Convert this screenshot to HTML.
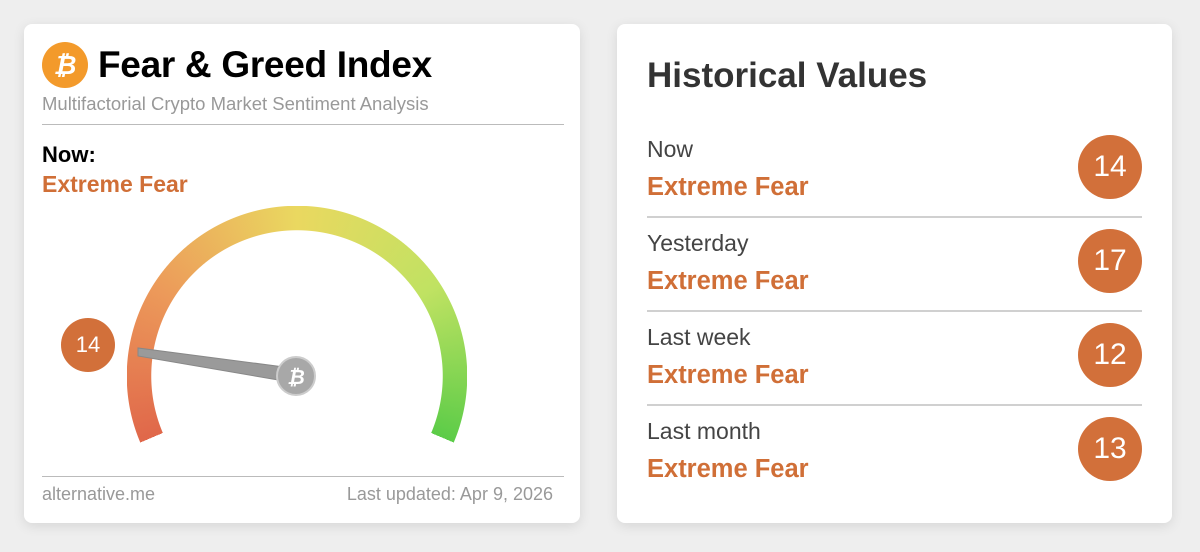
<!DOCTYPE html>
<html><head><meta charset="utf-8"><style>
body{margin:0;width:1200px;height:552px;background:#eeeeee;font-family:"Liberation Sans",sans-serif;position:relative;overflow:hidden}
.card{position:absolute;background:#fff;border-radius:8px;box-shadow:0 3px 12px rgba(0,0,0,0.10)}
.t{position:absolute;white-space:nowrap}
.ef{color:#d06f37;font-weight:bold}
.circ{position:absolute;border-radius:50%;background:#d2703a;color:#fff;text-align:center}
.hr{position:absolute;height:2px;background:#d0d0d0}
.arc{position:absolute;left:127px;top:206px;width:340px;height:340px;
background:conic-gradient(from 247deg,#e0674a 0deg,#ec9a5a 55deg,#ead860 113deg,#c0e262 170deg,#5ccc48 226deg,transparent 226deg);
-webkit-mask:radial-gradient(circle at center,transparent 145.5px,#000 146px,#000 170px,transparent 170.5px);
mask:radial-gradient(circle at center,transparent 145.5px,#000 146px,#000 170px,transparent 170.5px)}
</style></head><body>
<div class="card" style="left:24px;top:24px;width:556px;height:499px"></div>
<div class="card" style="left:617px;top:24px;width:555px;height:499px"></div>

<div class="circ" style="left:42px;top:42px;width:46px;height:46px;background:#f39a2b;font-size:26px;line-height:46px;font-weight:bold;font-style:italic">₿</div>
<div class="t" style="left:98px;top:44px;font-size:37px;font-weight:bold;color:#000;letter-spacing:-0.3px">Fear &amp; Greed Index</div>
<div class="t" style="left:42px;top:93px;font-size:18.5px;color:#999">Multifactorial Crypto Market Sentiment Analysis</div>
<div class="hr" style="left:42px;top:124px;width:522px;height:1px;background:#bbb"></div>
<div class="t" style="left:42px;top:142px;font-size:22px;font-weight:bold;color:#000">Now:</div>
<div class="t ef" style="left:42px;top:171px;font-size:23px">Extreme Fear</div>

<div class="arc"></div>
<svg style="position:absolute;left:0;top:0" width="600" height="552">
<polygon points="138,348 138,356 290,382 292,368" fill="#9a9a9a" stroke="#888" stroke-width="1"/>
<circle cx="296" cy="376" r="19" fill="#a8a8a8" stroke="#ccc" stroke-width="2"/>
<text x="296" y="384" font-size="20" font-weight="bold" fill="#fff" text-anchor="middle" font-family="Liberation Sans" font-style="italic">₿</text>
</svg>
<div class="circ" style="left:61px;top:318px;width:54px;height:54px;font-size:22px;line-height:54px">14</div>
<div class="hr" style="left:42px;top:476px;width:522px;height:1px;background:#bbb"></div>
<div class="t" style="left:42px;top:484px;font-size:18px;color:#999">alternative.me</div>
<div class="t" style="right:647px;top:484px;font-size:18px;color:#999">Last updated: Apr 9, 2026</div>

<div class="t" style="left:647px;top:56px;font-size:35px;font-weight:bold;color:#333">Historical Values</div>

<div class="t" style="left:647px;top:136px;font-size:23px;color:#444">Now</div>
<div class="t ef" style="left:647px;top:173px;font-size:25.5px">Extreme Fear</div>
<div class="circ" style="left:1078px;top:135px;width:64px;height:64px;font-size:30px;line-height:64px">14</div>
<div class="hr" style="left:647px;top:216px;width:495px"></div>

<div class="t" style="left:647px;top:230px;font-size:23px;color:#444">Yesterday</div>
<div class="t ef" style="left:647px;top:267px;font-size:25.5px">Extreme Fear</div>
<div class="circ" style="left:1078px;top:229px;width:64px;height:64px;font-size:30px;line-height:64px">17</div>
<div class="hr" style="left:647px;top:310px;width:495px"></div>

<div class="t" style="left:647px;top:324px;font-size:23px;color:#444">Last week</div>
<div class="t ef" style="left:647px;top:361px;font-size:25.5px">Extreme Fear</div>
<div class="circ" style="left:1078px;top:323px;width:64px;height:64px;font-size:30px;line-height:64px">12</div>
<div class="hr" style="left:647px;top:404px;width:495px"></div>

<div class="t" style="left:647px;top:418px;font-size:23px;color:#444">Last month</div>
<div class="t ef" style="left:647px;top:455px;font-size:25.5px">Extreme Fear</div>
<div class="circ" style="left:1078px;top:417px;width:64px;height:64px;font-size:30px;line-height:64px">13</div>
</body></html>
